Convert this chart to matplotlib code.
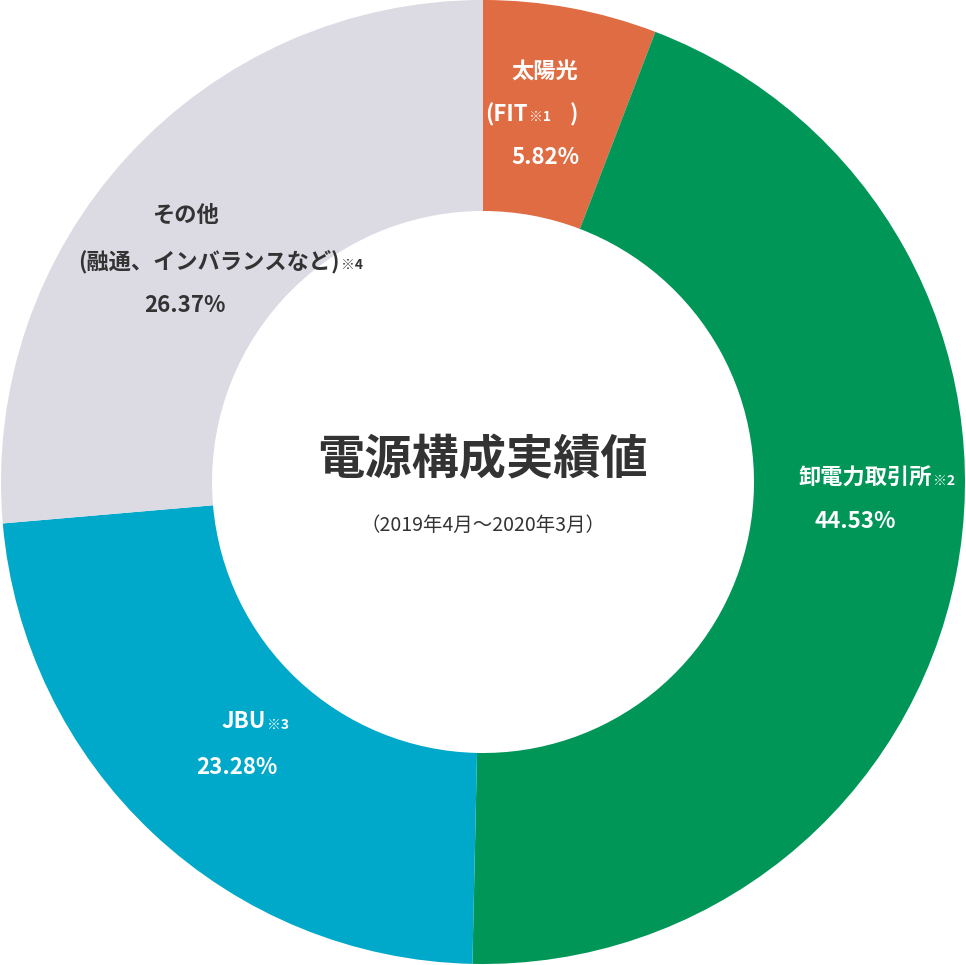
import matplotlib
matplotlib.use("Agg")
import matplotlib.pyplot as plt

plt.rcParams['font.family'] = ['Noto Sans CJK JP', 'DejaVu Sans']

labels = ['太陽光', '卸電力取引所', 'JBU', 'その他']
values = [5.82, 44.53, 23.28, 26.37]
colors = ['#E06C43', '#009658', '#00A9C9', '#DCDAE3']

W, H = 966, 965
cx, cy, R = 483, 482, 482

fig = plt.figure(figsize=(W / 100, H / 100), dpi=100)
ax = fig.add_axes([0, 0, 1, 1])
ax.pie(values, colors=colors, startangle=90, counterclock=False,
       radius=1, wedgeprops=dict(width=1 - 271 / 482, linewidth=0))
ax.set_xlim(-cx / R, (W - cx) / R)
ax.set_ylim(-(H - cy) / R, cy / R)
ax.set_aspect('equal')
ax.axis('off')


def t(px, py, s, size=16, color='white', ha='center', weight='bold'):
    ax.text((px - cx) / R, (cy - py) / R, s, fontsize=size, color=color,
            ha=ha, va='center', fontweight=weight)


dark = '#333333'
# 太陽光
t(545, 72, '太陽光')
t(528, 115, '(FIT', ha='right')
t(529, 117, '※1', size=10, ha='left')
t(570, 115, ')', ha='left')
t(545, 157, f'{values[0]:.2f}%')
# 卸電力取引所
t(932, 478, '卸電力取引所', ha='right')
t(933, 481, '※2', size=10, ha='left')
t(855, 522, f'{values[1]:.2f}%')
# JBU
t(266, 722, 'JBU', ha='right')
t(267, 725, '※3', size=10, ha='left')
t(237, 768, f'{values[2]:.2f}%')
# その他
t(185, 215, 'その他', color=dark)
t(340, 262, '(融通、インバランスなど)', color=dark, ha='right')
t(341, 265, '※4', size=10, color=dark, ha='left')
t(185, 305, f'{values[3]:.2f}%', color=dark)

# center
t(483, 460, '電源構成実績値', size=34, color=dark)
t(483, 525, '（2019年4月～2020年3月）', size=14, color=dark, weight='normal')

fig.savefig('out.png', dpi=100, facecolor='white')
